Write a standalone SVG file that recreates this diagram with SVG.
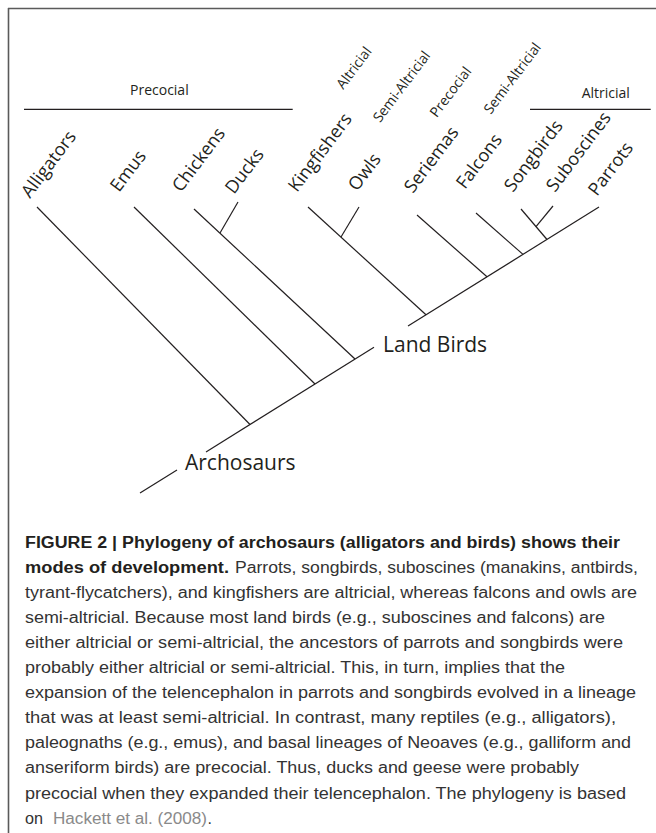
<svg xmlns="http://www.w3.org/2000/svg" width="656" height="833" viewBox="0 0 656 833">
<style>
.frame{stroke:#5a5a5a;stroke-width:1.6;fill:none}
.br{stroke:#231f20;stroke-width:1.2;fill:none;stroke-linecap:butt}
.tip{font-family:"Open Sans","DejaVu Sans",sans-serif;font-size:18px;fill:#231f20}
.clade{font-family:"Open Sans","DejaVu Sans",sans-serif;font-size:14px;fill:#231f20}
.big{font-family:"Open Sans","DejaVu Sans",sans-serif;font-size:21px;fill:#231f20}
.cap{font-family:"Liberation Sans",Arial,sans-serif;font-size:16px;fill:#333333}
.capb{font-family:"Liberation Sans",Arial,sans-serif;font-size:16px;font-weight:bold;fill:#231f20}
.link{fill:#8a8a8a}
</style>
<rect width="656" height="833" fill="#ffffff"/>
<g id="frame">
<line class="frame" x1="8" y1="8.5" x2="656" y2="8.5"/>
<line class="frame" x1="8.5" y1="8" x2="8.5" y2="833"/>
</g>
<g id="connectors">
<line class="br" x1="140" y1="493" x2="177" y2="470"/>
<line class="br" x1="206" y1="451.9" x2="374" y2="347.2"/>
<line class="br" x1="408" y1="326" x2="599" y2="207"/>
<line class="br" x1="37" y1="207" x2="250" y2="424.5"/>
<line class="br" x1="134" y1="207" x2="315" y2="384"/>
<line class="br" x1="194" y1="209" x2="355" y2="359"/>
<line class="br" x1="238" y1="202" x2="220" y2="233"/>
<line class="br" x1="308" y1="207" x2="426" y2="314.8"/>
<line class="br" x1="359" y1="207" x2="341" y2="237"/>
<line class="br" x1="417" y1="215" x2="487" y2="276.8"/>
<line class="br" x1="476" y1="213" x2="523" y2="254.4"/>
<line class="br" x1="521" y1="209" x2="547" y2="239.5"/>
<line class="br" x1="553" y1="206" x2="536" y2="226.6"/>
<line class="br" x1="24" y1="109.3" x2="292.7" y2="109.3"/>
<line class="br" x1="530" y1="109.3" x2="650.7" y2="109.3"/>
</g>
<g id="root-archosaurs"><text class="big" x="185" y="470">Archosaurs</text></g>
<g id="node-landbirds"><text class="big" x="383" y="351.7">Land Birds</text></g>
<g id="clade-precocial"><text class="clade" x="130" y="95">Precocial</text></g>
<g id="clade-altricial"><text class="clade" x="581.7" y="98">Altricial</text></g>
<g id="tip-alligators"><text class="tip" transform="translate(30,199) rotate(-53)">Alligators</text></g>
<g id="tip-emus"><text class="tip" transform="translate(119,193) rotate(-53)">Emus</text></g>
<g id="tip-chickens"><text class="tip" transform="translate(181,193) rotate(-53)">Chickens</text></g>
<g id="tip-ducks"><text class="tip" transform="translate(234,195) rotate(-53)">Ducks</text></g>
<g id="tip-kingfishers"><text class="tip" transform="translate(297,193) rotate(-53)">Kingfishers</text><text class="clade" transform="translate(343.3,90) rotate(-53)">Altricial</text></g>
<g id="tip-owls"><text class="tip" transform="translate(357,192) rotate(-53)">Owls</text><text class="clade" transform="translate(380,123.3) rotate(-53)">Semi-Altricial</text></g>
<g id="tip-seriemas"><text class="tip" transform="translate(413,194) rotate(-53)">Seriemas</text><text class="clade" transform="translate(436.7,118.3) rotate(-53)">Precocial</text></g>
<g id="tip-falcons"><text class="tip" transform="translate(465,190) rotate(-53)">Falcons</text><text class="clade" transform="translate(490.7,115) rotate(-53)">Semi-Altricial</text></g>
<g id="tip-songbirds"><text class="tip" transform="translate(513,193) rotate(-53)">Songbirds</text></g>
<g id="tip-suboscines"><text class="tip" transform="translate(555,193) rotate(-53)">Suboscines</text></g>
<g id="tip-parrots"><text class="tip" transform="translate(597,197) rotate(-53)">Parrots</text></g>
<g id="caption">
<text class="capb" x="25" y="547.5" textLength="595" lengthAdjust="spacingAndGlyphs">FIGURE 2 | Phylogeny of archosaurs (alligators and birds) shows their</text>
<text class="capb" x="25" y="572.6" textLength="204" lengthAdjust="spacingAndGlyphs">modes of development.</text>
<text class="cap" x="235" y="572.6" textLength="403" lengthAdjust="spacingAndGlyphs">Parrots, songbirds, suboscines (manakins, antbirds,</text>
<text class="cap" x="25" y="597.7" textLength="612" lengthAdjust="spacingAndGlyphs">tyrant-flycatchers), and kingfishers are altricial, whereas falcons and owls are</text>
<text class="cap" x="25" y="622.8" textLength="580" lengthAdjust="spacingAndGlyphs">semi-altricial. Because most land birds (e.g., suboscines and falcons) are</text>
<text class="cap" x="25" y="647.9" textLength="598" lengthAdjust="spacingAndGlyphs">either altricial or semi-altricial, the ancestors of parrots and songbirds were</text>
<text class="cap" x="25" y="673" textLength="540" lengthAdjust="spacingAndGlyphs">probably either altricial or semi-altricial. This, in turn, implies that the</text>
<text class="cap" x="25" y="698.1" textLength="611" lengthAdjust="spacingAndGlyphs">expansion of the telencephalon in parrots and songbirds evolved in a lineage</text>
<text class="cap" x="25" y="723.2" textLength="591" lengthAdjust="spacingAndGlyphs">that was at least semi-altricial. In contrast, many reptiles (e.g., alligators),</text>
<text class="cap" x="25" y="748.3" textLength="606" lengthAdjust="spacingAndGlyphs">paleognaths (e.g., emus), and basal lineages of Neoaves (e.g., galliform and</text>
<text class="cap" x="25" y="773.4" textLength="554" lengthAdjust="spacingAndGlyphs">anseriform birds) are precocial. Thus, ducks and geese were probably</text>
<text class="cap" x="25" y="798.5" textLength="601" lengthAdjust="spacingAndGlyphs">precocial when they expanded their telencephalon. The phylogeny is based</text>
<text class="cap" x="25" y="823.6" textLength="18" lengthAdjust="spacingAndGlyphs">on</text>
<text class="cap link" x="53" y="823.6" textLength="154" lengthAdjust="spacingAndGlyphs">Hackett et al. (2008)</text>
<text class="cap" x="207.5" y="823.6">.</text>
</g>
</svg>
